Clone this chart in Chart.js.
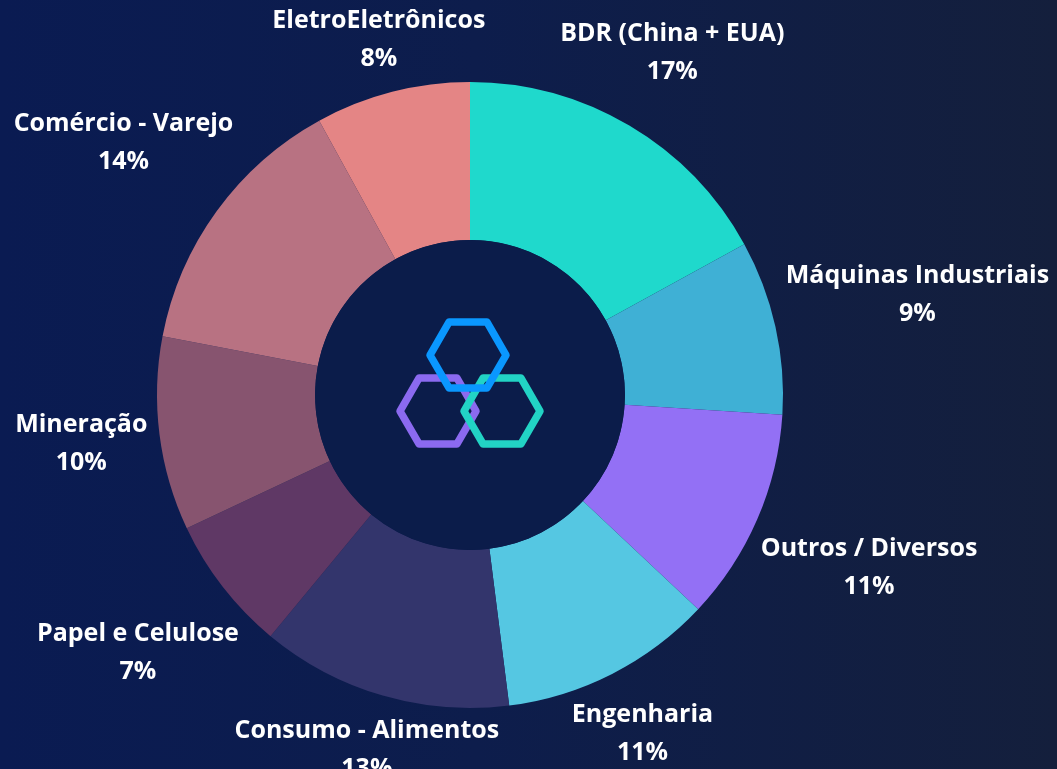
<!DOCTYPE html>
<html>
<head>
<meta charset="utf-8">
<script src="https://cdn.jsdelivr.net/npm/chart.js@4.4.1/dist/chart.umd.min.js"></script>
<style>
  html, body { margin: 0; padding: 0; }
  body {
    width: 1057px; height: 769px; overflow: hidden;
    background: linear-gradient(90deg, #0a1b52 0%, #0d1d4c 45%, #141f3c 100%);
  }
  #wrap { position: relative; width: 1057px; height: 769px; }
</style>
</head>
<body>
<div id="wrap"><canvas id="c" width="1057" height="769"></canvas></div>
<script>
const categories = [
  'BDR (China + EUA)',
  'Máquinas Industriais',
  'Outros / Diversos',
  'Engenharia',
  'Consumo - Alimentos',
  'Papel e Celulose',
  'Mineração',
  'Comércio - Varejo',
  'EletroEletrônicos'
];
const shares = [17, 9, 11, 11, 13, 7, 10, 14, 8];
const sliceColors = ['#1fd9cc', '#3fb0d5', '#9370f5', '#55c7e2', '#33356c', '#5f3865', '#87546f', '#b87282', '#e48585'];

const LABEL_FONT = 'bold 25px "Open Sans", "Noto Sans", sans-serif';
const LINE_GAP = 38;
const LABEL_GAP = 10;

const labelPlugin = {
  id: 'outerLabels',
  afterDatasetsDraw(chart) {
    const ctx = chart.ctx;
    const meta = chart.getDatasetMeta(0);
    ctx.save();
    ctx.font = LABEL_FONT;
    ctx.fillStyle = '#ffffff';
    ctx.textAlign = 'center';
    ctx.textBaseline = 'middle';
    meta.data.forEach((arc, i) => {
      const p = arc.getProps(['x', 'y', 'startAngle', 'endAngle', 'outerRadius'], true);
      const mid = (p.startAngle + p.endAngle) / 2;
      const ux = Math.cos(mid), uy = Math.sin(mid);
      const l1 = categories[i];
      const l2 = shares[i] + '%';
      const hw = Math.max(ctx.measureText(l1).width, ctx.measureText(l2).width) / 2;
      const hh = LINE_GAP / 2 + 13;
      const target = p.outerRadius + LABEL_GAP;
      let lo = 0, hi = 1000;
      for (let k = 0; k < 60; k++) {
        const d = (lo + hi) / 2;
        const cx = ux * d, cy = uy * d;
        const dx = Math.max(Math.abs(cx) - hw, 0);
        const dy = Math.max(Math.abs(cy) - hh, 0);
        if (Math.hypot(dx, dy) < target) lo = d; else hi = d;
      }
      const cx = p.x + ux * lo, cy = p.y + uy * lo;
      ctx.fillText(l1, cx, cy - LINE_GAP / 2);
      ctx.fillText(l2, cx, cy + LINE_GAP / 2);
    });
    ctx.restore();
  }
};

const centerPlugin = {
  id: 'centerLogo',
  afterDatasetsDraw(chart) {
    const ctx = chart.ctx;
    const meta = chart.getDatasetMeta(0);
    const a = meta.data[0];
    const cx = a.x, cy = a.y, ir = a.innerRadius;
    ctx.save();
    ctx.fillStyle = '#0b1c4a';
    ctx.beginPath();
    ctx.arc(cx, cy, ir, 0, Math.PI * 2);
    ctx.fill();
    const hex = (x, y, r, color) => {
      ctx.beginPath();
      for (let k = 0; k < 6; k++) {
        const ang = k * Math.PI / 3;
        const px = x + r * Math.cos(ang), py = y + r * Math.sin(ang);
        if (k === 0) ctx.moveTo(px, py); else ctx.lineTo(px, py);
      }
      ctx.closePath();
      ctx.strokeStyle = color;
      ctx.lineWidth = 7.5;
      ctx.lineJoin = 'round';
      ctx.stroke();
    };
    hex(cx - 32, cy + 16, 38, '#8b6af0');
    hex(cx + 32, cy + 16, 38, '#22d3c5');
    hex(cx - 2, cy - 40, 38, '#0a97ff');
    ctx.restore();
  }
};

new Chart(document.getElementById('c'), {
  type: 'doughnut',
  data: {
    labels: categories,
    datasets: [{
      data: shares,
      backgroundColor: sliceColors,
      borderWidth: 0,
      spacing: 0
    }]
  },
  options: {
    responsive: false,
    animation: false,
    cutout: '49.5%',
    layout: { padding: { left: 157, right: 274, top: 82, bottom: 61 } },
    plugins: {
      legend: { display: false },
      tooltip: { enabled: false }
    }
  },
  plugins: [labelPlugin, centerPlugin]
});
</script>
</body>
</html>
